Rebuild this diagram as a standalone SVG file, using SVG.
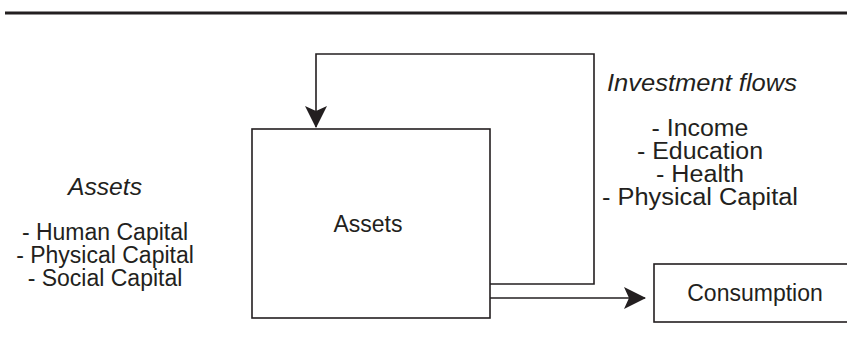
<svg xmlns="http://www.w3.org/2000/svg" width="847" height="354" viewBox="0 0 847 354">
<style>
  .box { fill: #fff; stroke: #231f20; stroke-width: 1.6; }
  .conn { fill: none; stroke: #231f20; stroke-width: 1.6; }
  text { font-family: "Liberation Sans", Arial, sans-serif; font-size: 23px; fill: #231f20; }
  .it { font-style: italic; }
  .c { text-anchor: middle; }
</style>
<defs>
  <marker id="arr" viewBox="0 0 22 22" markerWidth="22" markerHeight="22" refX="21" refY="11" orient="auto" markerUnits="userSpaceOnUse">
    <path d="M0,0 L22,11 L0,22 L5,11 Z" fill="#231f20"/>
  </marker>
</defs>
<rect x="0" y="0" width="847" height="354" fill="#fff"/>
<line x1="5" y1="13" x2="847" y2="13" stroke="#231f20" stroke-width="3"/>
<g id="assets-box">
  <rect class="box" x="252" y="129" width="238" height="189"/>
  <text class="c" x="368" y="232">Assets</text>
</g>
<g id="consumption">
  <rect class="box" x="654" y="264" width="210" height="58"/>
  <text class="c" x="755" y="301">Consumption</text>
</g>
<g id="assets-label">
  <text class="it c" x="105" y="195" textLength="74" lengthAdjust="spacingAndGlyphs">Assets</text>
  <text class="c" x="105" y="240">- Human Capital</text>
  <text class="c" x="105" y="263">- Physical Capital</text>
  <text class="c" x="105" y="286">- Social Capital</text>
</g>
<g id="investment-label">
  <text class="it" x="607" y="91" textLength="190" lengthAdjust="spacingAndGlyphs">Investment flows</text>
  <text class="c" x="700" y="136" textLength="97" lengthAdjust="spacingAndGlyphs">- Income</text>
  <text class="c" x="700" y="159" textLength="126" lengthAdjust="spacingAndGlyphs">- Education</text>
  <text class="c" x="700" y="182" textLength="88" lengthAdjust="spacingAndGlyphs">- Health</text>
  <text class="c" x="700" y="205" textLength="196" lengthAdjust="spacingAndGlyphs">- Physical Capital</text>
</g>
<g id="connectors">
  <path class="conn" d="M490,284 H594 V54 H316 V127" marker-end="url(#arr)"/>
  <path class="conn" d="M490,298 H645" marker-end="url(#arr)"/>
</g>
</svg>
